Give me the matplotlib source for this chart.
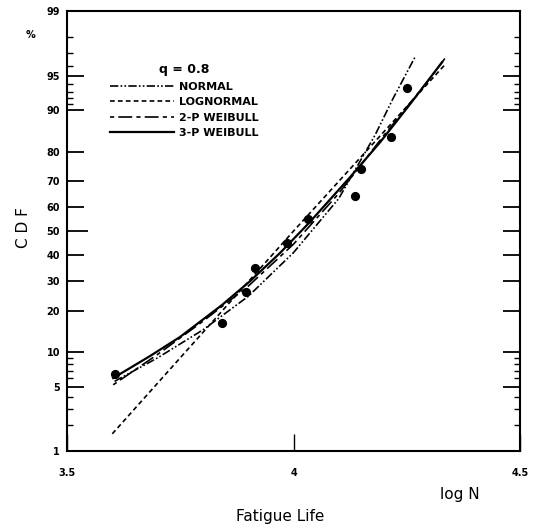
"""Fatigue-life probability plot: CDF (normal probability scale) vs log N."""
from statistics import NormalDist

import matplotlib
matplotlib.use("Agg")
import matplotlib.pyplot as plt
import numpy as np
from matplotlib.lines import Line2D
from matplotlib.ticker import FixedLocator, NullFormatter

plt.rcParams["lines.scale_dashes"] = False

# observed points (log N, CDF %)
obs_logn = [3.606, 3.842, 3.895, 3.915, 3.986, 4.032, 4.136, 4.149, 4.215, 4.251]
obs_cdf = [6.5, 16.5, 26.0, 35.0, 45.0, 55.0, 64.5, 74.5, 84.0, 93.5]

# fitted curves
normal_logn = [3.605, 3.70, 3.80, 3.90, 4.00, 4.10, 4.18, 4.22, 4.268]
normal_cdf = [5.6, 9.0, 14.8, 24.5, 41.0, 63.5, 84.5, 92.0, 96.7]

lognormal_logn = [3.600, 4.000, 4.337]
lognormal_cdf = [1.6, 50.0, 96.2]

weib2_logn = [3.602, 3.70, 3.80, 3.90, 4.00, 4.10, 4.20, 4.30, 4.334]
weib2_cdf = [5.2, 9.6, 17.0, 28.0, 44.5, 65.5, 84.5, 94.6, 96.6]

weib3_logn = [3.602, 3.683, 3.749, 3.842, 3.904, 3.970, 4.036, 4.125, 4.191, 4.257, 4.328]
weib3_cdf = [6.0, 9.3, 13.1, 21.7, 29.8, 40.8, 53.8, 71.6, 82.6, 91.0, 96.3]

major_cdf = [1, 5, 10, 20, 30, 40, 50, 60, 70, 80, 90, 95, 99]
minor_cdf = [2, 3, 4, 6, 7, 8, 9, 91, 92, 93, 94, 96, 97, 98]
x_ticks = [3.5, 4.0, 4.5]
x_ticklabels = ["3.5", "4", "4.5"]

_nd = NormalDist()
_ppf = np.vectorize(_nd.inv_cdf, otypes=[float])
_cdf = np.vectorize(_nd.cdf, otypes=[float])


def fwd(p):
    p = np.clip(np.asarray(p, dtype=float), 1e-6, 100 - 1e-6)
    return _ppf(p / 100.0)


def inv(z):
    return 100.0 * _cdf(np.asarray(z, dtype=float))


fig = plt.figure(figsize=(5.39, 5.30), dpi=100)
ax = fig.add_axes([0.1243, 0.149, 0.8405, 0.830])
ax.set_yscale("function", functions=(fwd, inv))

styles = {
    "NORMAL": (0, (6, 1.6, 1.2, 1.6, 1.2, 1.6)),
    "LOGNORMAL": (0, (3.4, 2.3)),
    "2-P WEIBULL": (0, (3, 3, 10, 3)),
    "3-P WEIBULL": "-",
}
curves = [
    ("NORMAL", normal_logn, normal_cdf),
    ("LOGNORMAL", lognormal_logn, lognormal_cdf),
    ("2-P WEIBULL", weib2_logn, weib2_cdf),
    ("3-P WEIBULL", weib3_logn, weib3_cdf),
]
handles = []
for name, xs, ys in curves:
    lw = 1.6 if name == "3-P WEIBULL" else 1.2
    ax.plot(xs, ys, color="black", linestyle=styles[name], linewidth=lw, zorder=2)
    handles.append(Line2D([], [], color="black", linestyle=styles[name],
                          linewidth=lw, label=name))

ax.plot(obs_logn, obs_cdf, "o", color="black", markersize=5.6, zorder=3)

ax.set_xlim(3.5, 4.5)
ax.set_ylim(1, 99)

ax.yaxis.set_major_locator(FixedLocator(major_cdf))
ax.yaxis.set_minor_locator(FixedLocator(minor_cdf))
ax.yaxis.set_minor_formatter(NullFormatter())
ax.set_yticklabels([str(v) for v in major_cdf])
ax.set_xticks(x_ticks)
ax.set_xticklabels(x_ticklabels)

for side in ax.spines.values():
    side.set_linewidth(1.5)
ax.tick_params(axis="y", which="major", direction="in", length=12, width=1.3,
               right=True, pad=5, labelsize=7)
ax.tick_params(axis="y", which="minor", direction="in", length=4.5, width=1.0,
               right=True)
ax.tick_params(axis="x", which="major", direction="in", length=12, width=1.0,
               pad=12, labelsize=7)
for lab in ax.get_xticklabels() + ax.get_yticklabels():
    lab.set_fontweight("bold")
# the 50 % tick is drawn a bit longer
ax.yaxis.get_major_ticks()[major_cdf.index(50)].tick1line.set_markersize(15)

fig.text(0.056, 1 - 35 / 530, "%", fontsize=7, fontweight="bold",
         ha="center", va="center")
fig.text(0.043, 1 - 228 / 530, "C D F", fontsize=11, rotation=90,
         ha="center", va="center")
fig.text(0.853, 1 - 495 / 530, "log N", fontsize=11, ha="center", va="center")
fig.text(0.52, 1 - 517 / 530, "Fatigue Life", fontsize=11,
         ha="center", va="center")

leg = ax.legend(handles=handles, loc="upper left",
                bbox_to_anchor=(110 / 539, 1 - 63 / 530),
                bbox_transform=fig.transFigure, frameon=False,
                title="q = 0.8", handlelength=5.8, handletextpad=0.45,
                labelspacing=0.5, borderpad=0, borderaxespad=0,
                prop={"size": 8, "weight": "bold"})
leg.get_title().set_fontsize(9)
leg.get_title().set_fontweight("bold")

fig.savefig("out.png", dpi=100)
